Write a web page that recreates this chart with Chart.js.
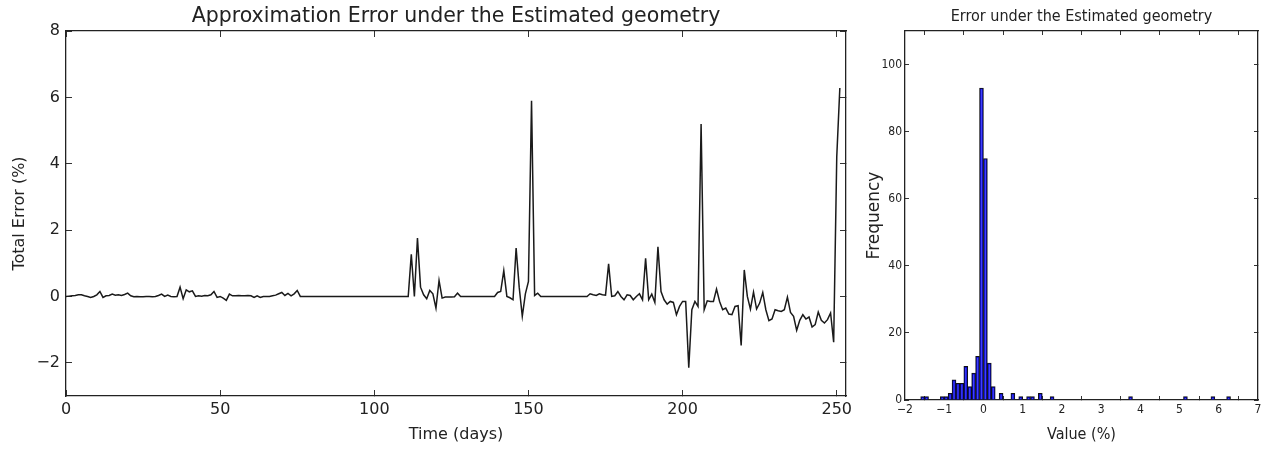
<!DOCTYPE html>
<html>
<head>
<meta charset="utf-8">
<script src="https://cdn.jsdelivr.net/npm/chart.js@4.4.0/dist/chart.umd.min.js"></script>
<style>
  body { margin: 0; background: #fff; width: 1270px; height: 449px; overflow: hidden; position: relative; }
  #left { position: absolute; left: 0; top: 0; }
  #right { position: absolute; left: 860px; top: 0; }
</style>
</head>
<body>
<canvas id="left" width="912" height="449"></canvas>
<canvas id="right" width="443" height="449"></canvas>
<script>
// total error per day (%)
const errorValues = [
  0, 0.01, 0.02, 0.03, 0.05, 0.05, 0.02, 0.0, -0.03, 0.0,
  0.05, 0.15, -0.03, 0.02, 0.03, 0.07, 0.04, 0.05, 0.03, 0.06,
  0.1, 0.02, -0.01, 0.0, -0.01, -0.01, 0.0, 0.0, -0.01, 0.0,
  0.03, 0.07, 0.0, 0.04, 0.0, -0.01, 0.0, 0.28, -0.07, 0.2,
  0.14, 0.17, 0.0, 0.02, 0.01, 0.03, 0.02, 0.05, 0.15, -0.03,
  0.0, -0.05, -0.12, 0.07, 0.02, 0.02, 0.03, 0.02, 0.02, 0.03,
  0.02, -0.03, 0.02, -0.03, 0.0, 0.0, 0.0, 0.02, 0.04, 0.08,
  0.12, 0.03, 0.09, 0.02, 0.08, 0.18, 0.0, 0, 0, 0,
  0, 0, 0, 0, 0, 0, 0, 0, 0, 0,
  0, 0, 0, 0, 0, 0, 0, 0, 0, 0,
  0, 0, 0, 0, 0, 0, 0, 0, 0, 0,
  0, 0, 1.27, 0.0, 1.76, 0.28, 0.05, -0.07, 0.18, 0.08,
  -0.35, 0.48, -0.05, -0.02, -0.02, -0.02, -0.01, 0.1, 0.0, 0.0,
  0, 0, 0, 0, 0, 0, 0, 0, 0, 0,
  0.12, 0.15, 0.78, 0.0, -0.04, -0.1, 1.46, 0.28, -0.6, 0.08,
  0.45, 5.9, 0.03, 0.1, 0.0, 0, 0, 0, 0, 0,
  0, 0, 0, 0, 0, 0, 0, 0, 0, 0,
  0.08, 0.05, 0.03, 0.08, 0.05, 0.04, 0.98, 0.0, 0.02, 0.15,
  0.0, -0.1, 0.05, 0.03, -0.1, 0.0, 0.08, -0.1, 1.15, -0.1,
  0.07, -0.18, 1.5, 0.15, -0.1, -0.23, -0.15, -0.18, -0.55, -0.3,
  -0.15, -0.15, -2.15, -0.4, -0.15, -0.3, 5.2, -0.4, -0.13, -0.15,
  -0.15, 0.22, -0.15, -0.4, -0.35, -0.53, -0.55, -0.3, -0.28, -1.48,
  0.8, 0.0, -0.38, 0.13, -0.38, -0.2, 0.12, -0.4, -0.73, -0.68,
  -0.4, -0.43, -0.45, -0.4, -0.02, -0.48, -0.6, -1.02, -0.72, -0.55,
  -0.68, -0.62, -0.92, -0.85, -0.47, -0.72, -0.8, -0.7, -0.5, -1.38,
  4.2, 6.28
];

// histogram of the error: bin centres (%) and counts
const histCenters = [-1.55, -1.45, -1.05, -0.95, -0.85, -0.75, -0.65, -0.55, -0.45, -0.35,
  -0.25, -0.15, -0.05, 0.05, 0.15, 0.25, 0.45, 0.75, 0.95, 1.15,
  1.25, 1.45, 1.75, 3.75, 5.15, 5.85, 6.25];
const histCounts = [1, 1, 1, 1, 2, 6, 5, 5, 10, 4,
  8, 13, 93, 72, 11, 4, 2, 2, 1, 1,
  1, 2, 1, 1, 1, 1, 1];

const timeTicks = [0, 50, 100, 150, 200, 250];
const errorTicks = [-2, 0, 2, 4, 6, 8];
const valueTicks = [-2, -1, 0, 1, 2, 3, 4, 5, 6, 7];
const freqTicks = [0, 20, 40, 60, 80, 100];

const ink = '#222';
const fmt = v => String(v).replace('-', '\u2212');

// one axis in the old matplotlib look: ticks pointing inwards, no grid
function axis(pos, min, max, tickList, size, font, pad, tl, extra) {
  const a = {
    type: 'linear',
    position: pos,
    min: min,
    max: max,
    afterBuildTicks: s => { s.ticks = tickList.map(v => ({ value: v })); },
    afterFit: s => {
      if (pos === 'top' || pos === 'bottom') s.height = size; else s.width = size;
    },
    ticks: { display: font !== null, padding: pad, color: ink, font: font || {}, callback: fmt },
    grid: { drawOnChartArea: false, tickLength: -tl, color: '#333', lineWidth: 1 },
    border: { display: true, color: ink, width: 1.3 }
  };
  return Object.assign(a, extra || {});
}

const bigFont = { family: 'DejaVu Sans', size: 16 };

// canvas is wider than the plot (empty right axis) so the title centres over the axes
new Chart(document.getElementById('left'), {
  type: 'line',
  data: {
    datasets: [{
      data: errorValues.map((v, i) => ({ x: i, y: v })),
      borderColor: '#1a1a1a',
      borderWidth: 1.5,
      pointRadius: 0,
      tension: 0,
      fill: false
    }]
  },
  options: {
    responsive: false,
    animation: false,
    layout: { padding: 0 },
    plugins: {
      legend: { display: false },
      tooltip: { enabled: false },
      title: {
        display: true,
        text: 'Approximation Error under the Estimated geometry',
        color: ink,
        font: { family: 'DejaVu Sans', size: 20.5, weight: 'normal' },
        padding: { top: 4.5, bottom: 1.9 }
      }
    },
    scales: {
      x: axis('bottom', 0, 253, timeTicks, 53, bigFont, 10, 6, {
        title: { display: true, text: 'Time (days)', color: ink, font: bigFont, padding: { top: 0, bottom: 5 } }
      }),
      y: axis('left', -3, 8, errorTicks, 66, bigFont, 12, 6, {
        title: { display: true, text: 'Total Error (%)', color: ink, font: bigFont, padding: { top: 10, bottom: 0 } }
      }),
      xTop: axis('top', 0, 253, timeTicks, 0, null, 0, 6),
      yRight: axis('right', -3, 8, errorTicks, 66, null, 0, 6)
    }
  }
});

const narrow = { family: "'Liberation Sans Narrow', 'DejaVu Sans Condensed', 'Liberation Sans'", size: 12 };

new Chart(document.getElementById('right'), {
  type: 'bar',
  data: {
    datasets: [{
      data: histCenters.map((c, i) => ({ x: c, y: histCounts[i] })),
      backgroundColor: 'rgba(0, 0, 255, 0.75)',
      borderColor: '#111',
      borderWidth: 1,
      barPercentage: 1,
      categoryPercentage: 1,
      grouped: false
    }]
  },
  options: {
    responsive: false,
    animation: false,
    layout: { padding: 0 },
    plugins: {
      legend: { display: false },
      tooltip: { enabled: false },
      title: {
        display: true,
        text: 'Error under the Estimated geometry',
        color: ink,
        font: { family: narrow.family, size: 16, weight: 'normal' },
        padding: { top: 7, bottom: 4.8 }
      }
    },
    scales: {
      x: axis('bottom', -2, 7, valueTicks, 49, narrow, 7, 4, {
        offset: false,
        title: { display: true, text: 'Value (%)', color: ink, font: { family: narrow.family, size: 16 }, padding: { top: 0, bottom: 4.5 } }
      }),
      y: axis('left', 0, 110, freqTicks, 45, narrow, 7, 4, {
        title: { display: true, text: 'Frequency', color: ink, font: { family: 'DejaVu Sans', size: 17 }, padding: { top: 4, bottom: 0 } }
      }),
      xTop: axis('top', -2, 7, valueTicks, 0, null, 0, 4, { offset: false }),
      yRight: axis('right', 0, 110, freqTicks, 45, null, 0, 4)
    }
  }
});
</script>
</body>
</html>
